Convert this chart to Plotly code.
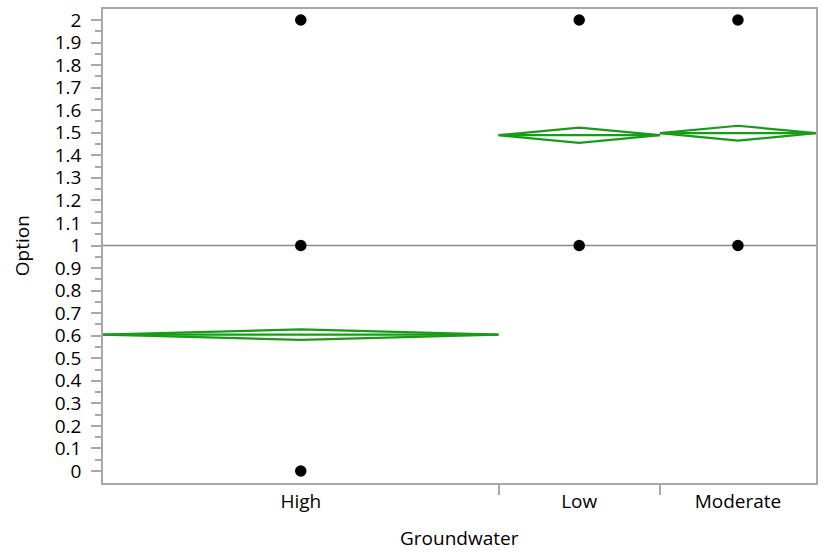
import plotly.graph_objects as go
import numpy as np

# ---- data ----
categories = ["High", "Low", "Moderate"]
counts = [76, 31, 30]                 # group sizes (set category widths)
means = [0.605, 1.489, 1.498]         # group means
ci_half = [0.023, 0.034, 0.033]       # half-width of 95% CI (diamond height)
point_values = {                       # observed distinct response values
    "High": [0, 1, 2],
    "Low": [1, 2],
    "Moderate": [1, 2],
}
grand_mean = 1.0
y_tick_vals = [round(0.1 * i, 1) for i in range(21)]
y_tick_text = [("%g" % v) for v in y_tick_vals]

GREEN = "#169c16"
AXIS = "#a8a8a8"
FONT = "Open Sans"
FS = 19

total = sum(counts)
lefts = np.cumsum([0] + counts[:-1]).tolist()
rights = np.cumsum(counts).tolist()
centers = [(l + r) / 2 for l, r in zip(lefts, rights)]

fig = go.Figure()

# grand mean line
fig.add_trace(go.Scatter(x=[0, total], y=[grand_mean, grand_mean], mode="lines",
                         line=dict(color="#8a8a8a", width=1.6), hoverinfo="skip", showlegend=False))

# means diamonds
for l, r, c, m, h in zip(lefts, rights, centers, means, ci_half):
    xs = [l, c, r, c, l, None, l, r]
    ys = [m, m + h, m, m - h, m, None, m, m]
    fig.add_trace(go.Scatter(x=xs, y=ys, mode="lines", line=dict(color=GREEN, width=2.2),
                             hoverinfo="skip", showlegend=False))

# points
for cat, c in zip(categories, centers):
    vals = point_values[cat]
    fig.add_trace(go.Scatter(x=[c] * len(vals), y=vals, mode="markers",
                             marker=dict(color="black", size=11.5), showlegend=False))

fig.update_layout(
    width=825, height=554,
    margin=dict(l=103, r=7, t=7, b=71),
    paper_bgcolor="white", plot_bgcolor="white",
    font=dict(family=FONT, size=FS, color="black"),
    showlegend=False,
    xaxis=dict(
        range=[0, total], showgrid=False, zeroline=False,
        showline=True, linecolor=AXIS, linewidth=1.5, mirror=True,
        tickmode="array", tickvals=centers, ticktext=categories,
        ticks="outside", ticklen=0, tickcolor=AXIS,
        minor=dict(tickmode="array", tickvals=rights[:-1], ticks="outside",
                   ticklen=10, tickcolor=AXIS, tickwidth=1.5, showgrid=False),
        tickfont=dict(size=FS, family=FONT),
    ),
    yaxis=dict(
        range=[-0.053, 2.0486], showgrid=False, zeroline=False,
        showline=True, linecolor=AXIS, linewidth=1.5, mirror=True,
        tickmode="array", tickvals=y_tick_vals, ticktext=y_tick_text,
        ticks="outside", ticklen=10, tickcolor=AXIS, tickwidth=1.5,
        ticklabelstandoff=6,
        minor=dict(tickmode="array", tickvals=[round(v + 0.05, 2) for v in y_tick_vals[:-1]],
                   ticks="outside", ticklen=6, tickcolor=AXIS, tickwidth=1.5, showgrid=False),
        tickfont=dict(size=FS, family=FONT),
    ),
    annotations=[
        dict(text="Groundwater", xref="paper", yref="paper", x=0.5, y=-0.1155,
             xanchor="center", yanchor="middle", showarrow=False,
             font=dict(size=FS, family=FONT)),
        dict(text="Option", xref="paper", yref="paper", x=-0.1133, y=0.5,
             xanchor="center", yanchor="middle", showarrow=False, textangle=-90,
             font=dict(size=FS, family=FONT)),
    ],
)

fig.write_html("out.html", config={"displayModeBar": False},
               post_script="document.body.style.margin='0';")
